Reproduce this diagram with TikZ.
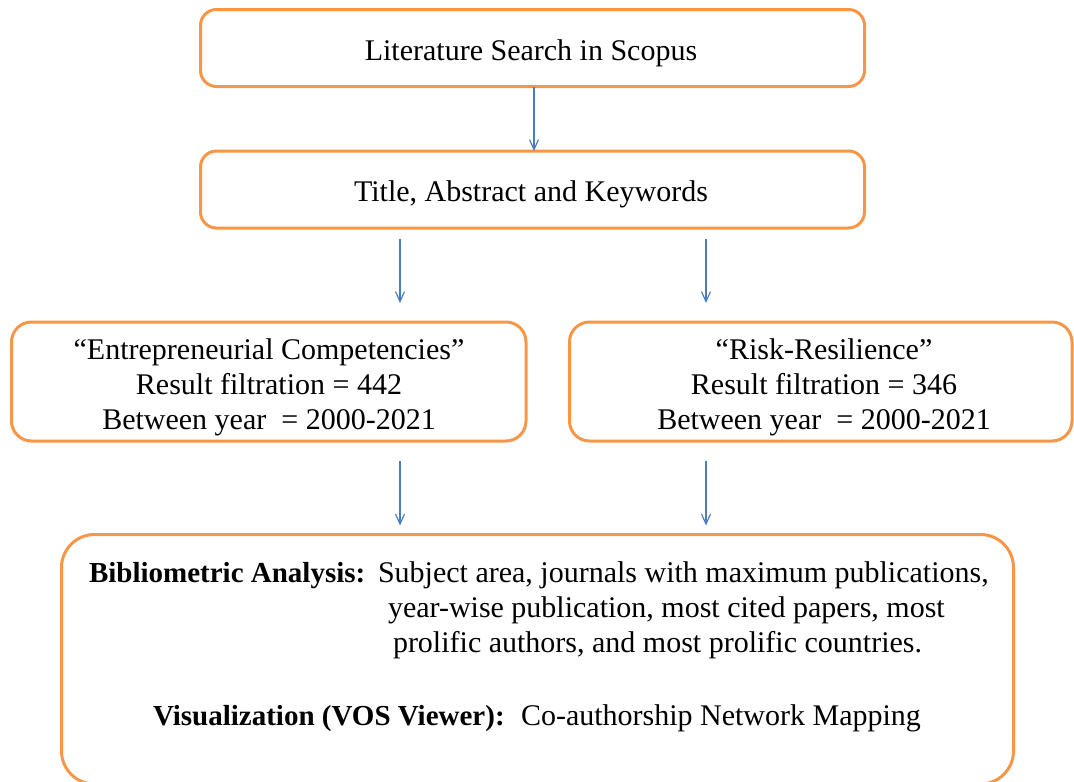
\documentclass[tikz,border=0pt]{standalone}
\usepackage{fontspec}
\setmainfont{Liberation Serif}
\usetikzlibrary{arrows.meta}
\definecolor{boxorange}{HTML}{F79646}
\definecolor{arrowblue}{HTML}{4A7EBB}
\tikzset{
  fbox/.style={draw=boxorange, line width=3pt, rounded corners=16pt, fill=white,
    inner sep=0pt, outer sep=0pt},
  btxt/.style={inner sep=0pt, outer sep=0pt, align=center, font=\fontsize{30}{35}\selectfont},
  arr/.style={draw=arrowblue, line width=1.2pt, -{Straight Barb[length=10pt,width=9pt]}},
  txt/.style={inner sep=0pt, outer sep=0pt, anchor=base west, font=\fontsize{30}{35}\selectfont},
  bold/.style={txt, font=\fontsize{29}{35}\selectfont\bfseries}
}
\begin{document}
\begin{tikzpicture}[x=1pt,y=-1pt]
\useasboundingbox (0,0) rectangle (1074,782);
\clip (0,0) rectangle (1074,782);
\node[fbox, minimum width=664pt, minimum height=77pt] (b1) at (532.5,48) {};
\node[btxt] (l1) at (531,53) {Literature Search in Scopus};
\node[fbox, minimum width=664pt, minimum height=77pt] (b2) at (532.5,189.5) {};
\node[btxt] (l2) at (531,194) {Title, Abstract and Keywords};
\node[fbox, minimum width=514.5pt, minimum height=119pt, rounded corners=20pt] (b3) at (268.75,381.5) {};
\node[btxt] (l3) at (269,387.5) {“Entrepreneurial Competencies”\\Result filtration = 442\\Between year~~= 2000-2021};
\node[fbox, minimum width=502.5pt, minimum height=119pt, rounded corners=20pt] (b4) at (820.75,381.5) {};
\node[btxt] (l4) at (824,387.5) {“Risk-Resilience”\\Result filtration = 346\\Between year~~= 2000-2021};
\node[fbox, minimum width=952pt, minimum height=249.5pt, rounded corners=33pt] (b5) at (537.5,659.25) {};
\node[bold] (t1a) at (89,582) {Bibliometric Analysis:};
\node[txt] (t1b) at (378,582) {Subject area, journals with maximum publications,};
\node[txt] (t2) at (388,617) {year-wise publication, most cited papers, most};
\node[txt] (t3) at (393,652) {prolific authors, and most prolific countries.};
\node[bold] (t4a) at (153,725) {Visualization (VOS Viewer):};
\node[txt] (t4b) at (521,725) {Co-authorship Network Mapping};
\coordinate (xm) at (534,0);
\coordinate (xl) at (400,0);
\coordinate (xr) at (706,0);
\draw[arr] (b1.south -| xm) -- (b2.north -| xm);
\draw[arr, shorten <=11pt, shorten >=19pt] (b2.south -| xl) -- (b3.north -| xl);
\draw[arr, shorten <=11pt, shorten >=19pt] (b2.south -| xr) -- (b4.north -| xr);
\draw[arr, shorten <=20pt, shorten >=9pt] (b3.south -| xl) -- (b5.north -| xl);
\draw[arr, shorten <=20pt, shorten >=9pt] (b4.south -| xr) -- (b5.north -| xr);
\end{tikzpicture}
\end{document}
